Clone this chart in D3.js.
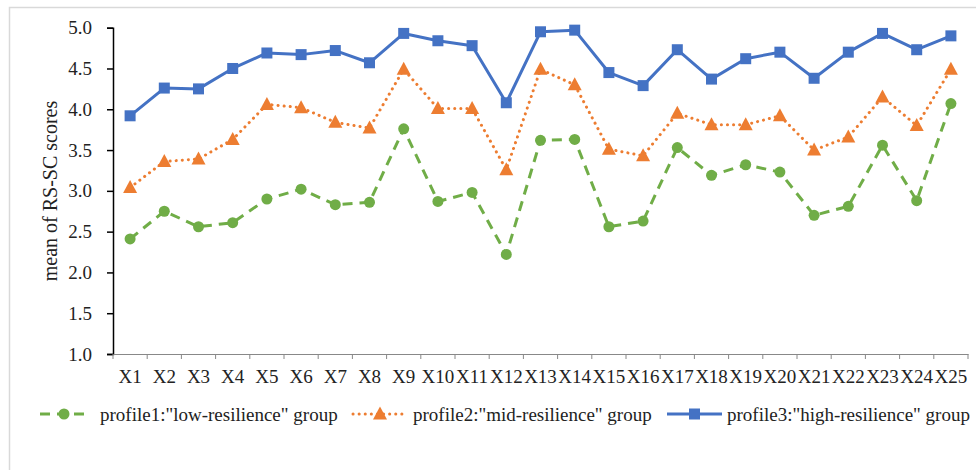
<!DOCTYPE html>
<html><head><meta charset="utf-8">
<script src="https://cdn.jsdelivr.net/npm/d3@7"></script>
<style>
html,body{margin:0;padding:0;background:#fff;}
svg{display:block;}
svg text{font-family:"Liberation Serif","Times New Roman",Times,"DejaVu Serif",serif !important;}
</style></head>
<body><svg id="c" width="976" height="470"></svg>
<script>
const categories = ["X1","X2","X3","X4","X5","X6","X7","X8","X9","X10","X11","X12","X13","X14","X15","X16","X17","X18","X19","X20","X21","X22","X23","X24","X25"];
const profile1 = [2.41,2.75,2.56,2.61,2.90,3.02,2.83,2.86,3.76,2.87,2.98,2.22,3.62,3.63,2.56,2.63,3.53,3.19,3.32,3.23,2.70,2.81,3.56,2.88,4.07];
const profile2 = [3.04,3.36,3.39,3.63,4.06,4.02,3.84,3.77,4.49,4.01,4.01,3.26,4.49,4.30,3.51,3.43,3.95,3.81,3.81,3.92,3.50,3.66,4.15,3.80,4.49];
const profile3 = [3.92,4.26,4.25,4.50,4.69,4.67,4.72,4.57,4.93,4.84,4.78,4.08,4.95,4.97,4.45,4.29,4.73,4.37,4.62,4.70,4.38,4.70,4.93,4.73,4.90];
const seriesNames = ['profile1:"low-resilience" group','profile2:"mid-resilience" group','profile3:"high-resilience" group'];
const yTicks = [1.0,1.5,2.0,2.5,3.0,3.5,4.0,4.5,5.0];

const series = [
  {name: seriesNames[0], values: profile1, color: "#70AD47", dash: "10,7", cap: "butt", marker: "circle"},
  {name: seriesNames[1], values: profile2, color: "#ED7D31", dash: "0.1,6", cap: "round", marker: "triangle"},
  {name: seriesNames[2], values: profile3, color: "#4472C4", dash: null, cap: "butt", marker: "square"}
];

const svg = d3.select("#c");
svg.append("path").attr("d","M9.5,470 V7.5 H976").attr("fill","none").attr("stroke","#d9d9d9").attr("stroke-width",1.5);

const x = d3.scaleBand().domain(categories).range([113,968]).padding(0);
const y = d3.scaleLinear().domain([1,5]).range([354,27.7]);
const cx = c => x(c) + x.bandwidth()/2;

const ya = svg.append("g").attr("transform","translate(113,0)")
  .call(d3.axisLeft(y).tickValues(yTicks).tickFormat(d3.format(".1f")).tickSize(6).tickPadding(15));
ya.select(".domain").attr("stroke","#000").attr("stroke-width",1.5);
ya.selectAll(".tick line").attr("stroke","#000").attr("stroke-width",1.5);
ya.selectAll("text").attr("font-size",19).attr("fill","#222");

const xa = svg.append("g").attr("transform","translate(0,354)")
  .call(d3.axisBottom(x).tickSize(0).tickPadding(16));
xa.select(".domain").attr("stroke","#888").attr("stroke-width",1);
xa.selectAll("text").attr("font-size",19).attr("fill","#222");
const bounds = categories.map(c => x(c)).concat([x.range()[1]]);
xa.selectAll("line.bt").data(bounds).enter().append("line").attr("class","bt")
  .attr("x1",d=>d).attr("x2",d=>d).attr("y1",0).attr("y2",5).attr("stroke","#888").attr("stroke-width",1);

svg.append("text").attr("transform","translate(57,191) rotate(-90)")
  .attr("text-anchor","middle").attr("font-size",20).attr("fill","#222").text("mean of RS-SC scores");

function drawMarker(g, type, color, px, py) {
  if (type === "circle") g.append("circle").attr("cx",px).attr("cy",py).attr("r",5.5).attr("fill",color);
  else if (type === "square") g.append("rect").attr("x",px-5.5).attr("y",py-5.5).attr("width",11).attr("height",11).attr("fill",color);
  else g.append("path").attr("d",`M${px},${py-7.5} L${px+7},${py+5.5} L${px-7},${py+5.5} Z`).attr("fill",color);
}

const line = d3.line().x((d,i)=>cx(categories[i])).y(d=>y(d));
series.forEach(s => {
  const g = svg.append("g");
  g.append("path").attr("d", line(s.values)).attr("fill","none").attr("stroke",s.color)
    .attr("stroke-width",3).attr("stroke-dasharray",s.dash).attr("stroke-linecap",s.cap).attr("stroke-linejoin","round");
  s.values.forEach((v,i)=> drawMarker(g, s.marker, s.color, cx(categories[i]), y(v)));
});

const legendPos = [{x0:40,x1:88,t:100},{x0:353,x1:407,t:413},{x0:667,x1:722,t:727}];
const ly = 414;
series.forEach((s,i) => {
  const p = legendPos[i];
  const g = svg.append("g");
  g.append("line").attr("x1",p.x0).attr("x2",p.x1).attr("y1",ly).attr("y2",ly).attr("stroke",s.color)
    .attr("stroke-width",3).attr("stroke-dasharray",s.dash).attr("stroke-linecap",s.cap);
  drawMarker(g, s.marker, s.color, (p.x0+p.x1)/2, ly);
  g.append("text").attr("x",p.t).attr("y",ly).attr("dy","0.35em").attr("font-size",19).attr("fill","#222").text(s.name);
});
</script></body></html>
